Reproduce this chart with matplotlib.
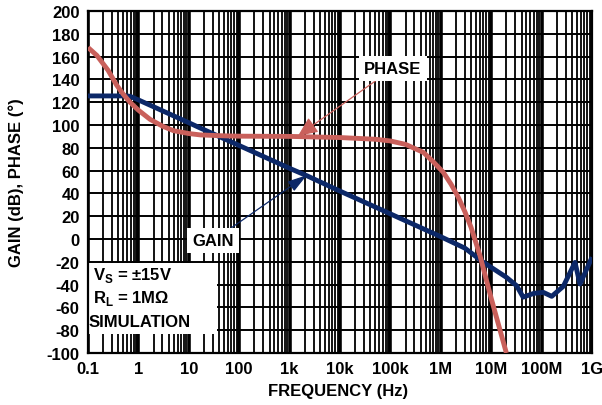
import matplotlib
matplotlib.use("Agg")
import matplotlib.pyplot as plt
import numpy as np
from matplotlib.ticker import LogLocator, FixedFormatter, FixedLocator, NullFormatter
from matplotlib.patches import Rectangle

plt.rcParams['font.family'] = ['Liberation Sans', 'DejaVu Sans']
plt.rcParams['font.weight'] = 'bold'
plt.rcParams['axes.labelweight'] = 'bold'

# gain curve (dB)
gain_freq = [0.1, 0.6, 0.7, 1, 2, 10, 16.6, 100, 1e3, 2.2e3, 1e4, 6.2e4, 1.55e5, 1e6,
             3e6, 7e6, 2e7, 3.2e7, 4.3e7, 7e7, 1.08e8, 1.59e8, 2.7e8, 4.6e8, 5.78e8, 1e9]
gain_db = [125.5, 125.5, 125, 122, 116, 102, 97.5, 82, 62, 55.5, 42, 26.2, 18.2, 2,
           -8, -20.4, -33.6, -41, -51, -47.7, -46.8, -50.3, -41.5, -20.5, -39.5, -16]

# phase curve (degrees)
phase_freq = [0.1, 0.15, 0.25, 0.37, 0.5, 0.68, 1, 1.7, 3, 5, 10, 17, 50, 100, 1e3,
              1e4, 5e4, 1e5, 2e5, 4.5e5, 7e5, 1.12e6, 1.6e6, 2.2e6, 3e6, 4e6, 6e6, 1e7, 2e7]
phase_deg = [168, 161, 148, 135, 127, 120, 113, 105, 99, 95, 92.5, 91.3, 90.5, 90.2, 90,
             89, 87.5, 86, 83, 76, 68, 58.5, 48, 37, 24, 10, -14.7, -52, -100]

decades = [0.1, 1, 10, 100, 1e3, 1e4, 1e5, 1e6, 1e7, 1e8, 1e9]
decade_labels = ['0.1', '1', '10', '100', '1k', '10k', '100k', '1M', '10M', '100M', '1G']
y_ticks = list(range(-100, 201, 20))

blue = '#0c2868'
red = '#c9605b'
fs = 12

fig = plt.figure(figsize=(6.02, 4.06), dpi=100)
ax = fig.add_axes([88 / 602, 52 / 406, 504 / 602, 342 / 406])

ax.set_xscale('log')
ax.set_xlim(0.1, 1e9)
ax.set_ylim(-100, 200)

ax.xaxis.set_major_locator(FixedLocator(decades))
ax.xaxis.set_major_formatter(FixedFormatter(decade_labels))
ax.xaxis.set_minor_locator(LogLocator(base=10, subs=np.arange(2, 10), numticks=30))
ax.xaxis.set_minor_formatter(NullFormatter())
ax.set_yticks(y_ticks)
ax.set_yticklabels([str(v) for v in y_ticks])

ax.tick_params(which='both', length=0, labelsize=fs)
ax.tick_params(axis='x', pad=6)
ax.tick_params(axis='y', pad=6)

ax.set_axisbelow(True)
ax.xaxis.grid(True, which='major', color='black', lw=2.6)
ax.xaxis.grid(True, which='minor', color='black', lw=1.3)
ax.yaxis.grid(True, which='major', color='black', lw=1.4)
for s in ax.spines.values():
    s.set_linewidth(1.6)

ax.plot(gain_freq, gain_db, color=blue, lw=3.5, solid_capstyle='butt', zorder=3)
ax.plot(phase_freq, phase_deg, color=red, lw=3.5, solid_capstyle='butt', zorder=3)

# white box for the conditions
ax.add_patch(Rectangle((0.1, -83), 36 - 0.1, 62, facecolor='white', edgecolor='none', zorder=1))
ax.text(0.125, -31.5, 'V$_\\mathregular{S}$ = ±15V', fontsize=fs, fontweight='bold', va='center', zorder=4)
ax.text(0.127, -51.5, 'R$_\\mathregular{L}$ = 1MΩ', fontsize=fs, fontweight='bold', va='center', zorder=4)
ax.text(0.102, -72, 'SIMULATION', fontsize=fs, fontweight='bold', va='center', zorder=4)

ax.annotate('GAIN', xy=(2.2e3, 56), xytext=(30, -1.5), fontsize=fs, fontweight='bold',
            ha='center', va='center', zorder=5,
            bbox=dict(boxstyle='square,pad=0.3', fc='white', ec='none'),
            arrowprops=dict(arrowstyle='-|>,head_length=1.0,head_width=0.3', color=blue, lw=0.9,
                            shrinkA=0, shrinkB=0))
ax.annotate('PHASE', xy=(1.47e3, 90.5), xytext=(1.12e5, 149.5), fontsize=fs, fontweight='bold',
            ha='center', va='center', zorder=5,
            bbox=dict(boxstyle='square,pad=0.3', fc='white', ec='none'),
            arrowprops=dict(arrowstyle='-|>,head_length=1.0,head_width=0.45', color=red, lw=0.9,
                            shrinkA=0, shrinkB=0))

fig.text(338 / 602, 1 - 392 / 406, 'FREQUENCY (Hz)', fontsize=fs, fontweight='bold',
         ha='center', va='center')
fig.text(16 / 602, 1 - 183 / 406, 'GAIN (dB), PHASE (°)', fontsize=fs, fontweight='bold',
         ha='center', va='center', rotation=90)

fig.savefig('out.png', dpi=100)
